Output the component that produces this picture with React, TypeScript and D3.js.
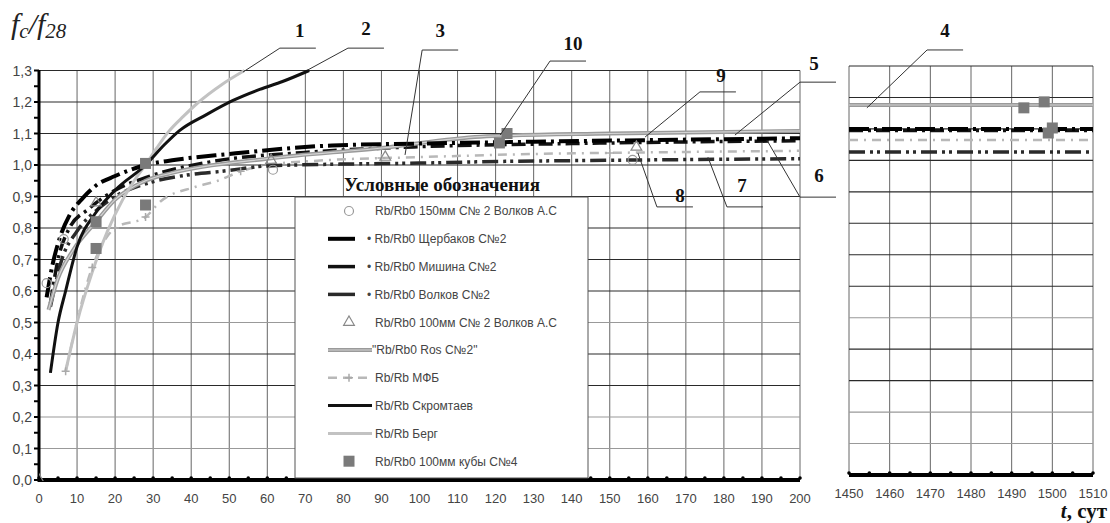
import React from "react";
import * as d3 from "d3";

// values: [t (days), fc/f28]
const scherbakovPts: [number, number][] = [
  [2, 0.58], [3.5, 0.68], [5.5, 0.77], [8, 0.84], [11.5, 0.895], [15, 0.935], [20, 0.965],
  [28, 1.0], [35, 1.015], [50, 1.035], [77, 1.062], [100, 1.068], [130, 1.074], [160, 1.079], [200, 1.085],
];
const mishinaPts: [number, number][] = [
  [3, 0.56], [5, 0.7], [8, 0.8], [13, 0.86], [20, 0.92], [28, 0.96], [45, 1.01], [70, 1.04],
  [100, 1.058], [140, 1.068], [200, 1.077],
];
const volkovPts: [number, number][] = [
  [3, 0.55], [6, 0.7], [10, 0.79], [15, 0.855], [20, 0.9], [28, 0.94], [40, 0.97], [48, 0.98],
  [60, 0.997], [80, 1.003], [100, 1.006], [115, 1.01], [150, 1.015], [200, 1.02],
];
const rosPts: [number, number][] = [
  [2.5, 0.54], [5, 0.64], [9, 0.73], [15, 0.82], [20, 0.89], [28, 0.95], [35, 0.975], [60, 1.02],
  [90, 1.054], [116, 1.09], [150, 1.1], [200, 1.108],
];
const mfbPts: [number, number][] = [
  [7, 0.345], [14, 0.675], [20, 0.8], [28, 0.835], [32, 0.885], [41, 0.93], [47, 0.95], [53, 0.98],
  [60, 1.0], [75, 1.015], [100, 1.025], [130, 1.035], [160, 1.04], [200, 1.045],
];
const mfbMarks: [number, number][] = [[7, 0.345], [14, 0.675], [20, 0.8], [28, 0.835], [53, 0.98], [90, 1.022], [150, 1.038]];
const skramtaevPts: [number, number][] = [
  [3, 0.34], [5, 0.5], [7, 0.6], [10, 0.74], [15, 0.85], [20, 0.92], [28, 1.0], [33, 1.065],
  [37, 1.11], [44, 1.16], [51, 1.205], [58, 1.24], [64, 1.265], [71, 1.3],
];
const bergPts: [number, number][] = [
  [7, 0.345], [10, 0.5], [14, 0.66], [18, 0.79], [22, 0.89], [25, 0.95], [28, 1.0], [31, 1.055],
  [34, 1.105], [38, 1.155], [42, 1.2], [48, 1.255], [54, 1.3],
];
const circlePts: [number, number][] = [[2, 0.625], [6.5, 0.765], [61.5, 0.985], [156, 1.016]];
const trianglePts: [number, number][] = [[0, 0], [15, 0.88], [61, 1.015], [91, 1.025], [157, 1.057]];
const squarePts: [number, number][] = [[15, 0.82], [15, 0.735], [28, 1.005], [28, 0.873], [121, 1.07], [123, 1.1]];

// long-term panel (1450..1510 days)
const rosLate: [number, number][] = [[1450, 1.176], [1510, 1.176]];
const scherbakovLate: [number, number][] = [[1450, 1.1], [1510, 1.1]];
const mishinaLate: [number, number][] = [[1450, 1.095], [1510, 1.095]];
const mfbLate: [number, number][] = [[1450, 1.065], [1510, 1.065]];
const volkovLate: [number, number][] = [[1450, 1.027], [1510, 1.027]];
const squareLate: [number, number][] = [[1493, 1.167], [1498, 1.186], [1500, 1.103], [1499, 1.087]];

const legendLabels = [
  "Rb/Rb0 150мм С№ 2 Волков А.С",
  "• Rb/Rb0 Щербаков С№2",
  "• Rb/Rb0 Мишина С№2",
  "• Rb/Rb0 Волков С№2",
  "Rb/Rb0 100мм С№ 2 Волков А.С",
  "\"Rb/Rb0 Ros С№2\"",
  "Rb/Rb МФБ",
  "Rb/Rb Скромтаев",
  "Rb/Rb Берг",
  "Rb/Rb0 100мм кубы С№4",
];
const legendKinds = ["circle", "scherbakov", "mishina", "volkov", "triangle", "ros", "mfb", "skramtaev", "berg", "square"];

// numbered callouts: tip on curve, elbow of leader (data units)
const callouts = [
  { label: "1", panel: "L", tip: [53.6, 1.295], elbow: [63.3, 1.371], dx: 2, dy: -11 },
  { label: "2", panel: "L", tip: [70.7, 1.302], elbow: [81.2, 1.371], dx: 0, dy: -13 },
  { label: "3", panel: "L", tip: [96.2, 1.032], elbow: [100.7, 1.365], dx: 0, dy: -13 },
  { label: "10", panel: "L", tip: [121.2, 1.095], elbow: [134.3, 1.33], dx: 5, dy: -11 },
  { label: "9", panel: "L", tip: [159.3, 1.089], elbow: [173.7, 1.232], dx: 3, dy: -10 },
  { label: "5", panel: "L", tip: [182.9, 1.095], elbow: [200, 1.263], dx: -4, dy: -12 },
  { label: "6", panel: "L", tip: [191.3, 1.079], elbow: [200, 0.898], dx: 1, dy: -15 },
  { label: "7", panel: "L", tip: [175.8, 1.025], elbow: [180.8, 0.867], dx: -3, dy: -15 },
  { label: "8", panel: "L", tip: [157.4, 1.038], elbow: [162.4, 0.867], dx: 5, dy: -5 },
  { label: "4", panel: "R", tip: [1454.4, 1.167], elbow: [1469.2, 1.351], dx: 0, dy: -13 },
];

const styles: Record<string, { stroke: string; width: number; dash?: string; inner?: string }> = {
  scherbakov: { stroke: "#000", width: 4, dash: "20,5,3,5" },
  mishina: { stroke: "#111", width: 3.5, dash: "14,5,3,5" },
  volkov: { stroke: "#2a2a2a", width: 3.5, dash: "16,5,3,4,3,5" },
  ros: { stroke: "#9a9a9a", width: 4, inner: "#d4d4d4" },
  mfb: { stroke: "#b8b8b8", width: 2.5, dash: "9,6,2,6" },
  skramtaev: { stroke: "#111", width: 3 },
  berg: { stroke: "#c2c2c2", width: 3 },
};

const lightRows = [0.5, 0.2, 0.1];

const xL = d3.scaleLinear().domain([0, 200]).range([39, 800]);
const yL = d3.scaleLinear().domain([0, 1.3]).range([480, 70.5]);
const xR = d3.scaleLinear().domain([1450, 1510]).range([849, 1093]);
const yR = d3.scaleLinear().domain([0, 1.3]).range([475, 66]);

const fmt = (v: number) => d3.format(".1f")(v).replace(".", ",");
const SANS = "'Liberation Sans', Arial, sans-serif";
const SERIF = "'Liberation Serif', 'Times New Roman', serif";

function Series({ pts, kind, x, y }: any) {
  const st = styles[kind];
  const line = d3.line<[number, number]>().x((d) => x(d[0])).y((d) => y(d[1])).curve(d3.curveMonotoneX);
  const d = line(pts) || "";
  return (
    <g>
      <path d={d} fill="none" stroke={st.stroke} strokeWidth={st.width} strokeDasharray={st.dash} />
      {st.inner && <path d={d} fill="none" stroke={st.inner} strokeWidth={1.2} />}
    </g>
  );
}

function Marker({ kind, cx, cy }: any) {
  if (kind === "circle") return <circle cx={cx} cy={cy} r={4.5} fill="none" stroke="#999" strokeWidth={1.2} />;
  if (kind === "triangle")
    return <path d={d3.symbol(d3.symbolTriangle, 50)() || ""} transform={`translate(${cx},${cy})`} fill="none" stroke="#888" strokeWidth={1.2} />;
  if (kind === "square") return <rect x={cx - 5.5} y={cy - 5.5} width={11} height={11} fill="#7a7a7a" />;
  return (
    <path d={`M${cx - 4},${cy}H${cx + 4}M${cx},${cy - 4}V${cy + 4}`} stroke="#aaa" strokeWidth={1.5} />
  );
}

function Grid({ x, y, xs }: any) {
  const [x0, x1] = x.range();
  const [y0, y1] = y.range();
  const rows = d3.range(0, 14).map((i) => i / 10);
  const minor = d3.range(x.domain()[0], x.domain()[1] + 0.1, 5);
  return (
    <g>
      {xs.map((t: number) => (
        <line key={"v" + t} x1={x(t)} x2={x(t)} y1={y0} y2={y1} stroke="#666" strokeWidth={1} />
      ))}
      {rows.map((v) => (
        <line key={"h" + v} x1={x0} x2={x1} y1={y(v)} y2={y(v)}
          stroke={lightRows.includes(v) ? "#999" : "#2a2a2a"} strokeWidth={v === 1.3 ? 1 : 1.1} />
      ))}
      <line x1={x0} x2={x1} y1={y0} y2={y0} stroke="#000" strokeWidth={4} />
      {minor.map((t: number) => (
        <circle key={"m" + t} cx={x(t)} cy={y0 - 2} r={1.8} fill="#000" />
      ))}
      {xs.map((t: number) => (
        <text key={"l" + t} x={x(t)} y={y0 + 23} textAnchor="middle" fontSize={13} fontFamily={SANS} fill="#444">
          {t}
        </text>
      ))}
    </g>
  );
}

export default function App() {
  const clipL = "clipLeft";
  const legendX = 295;
  const legendRow = (i: number) => 211 + i * 27.8;
  return (
    <svg width={1110} height={523} style={{ position: "absolute", left: 0, top: 0, background: "#fff" }}>
      <defs>
        <clipPath id={clipL}>
          <rect x={39} y={69} width={761} height={412} />
        </clipPath>
      </defs>

      <Grid x={xL} y={yL} xs={d3.range(0, 201, 10)} />
      <Grid x={xR} y={yR} xs={d3.range(1450, 1511, 10)} />

      {/* left axis */}
      <line x1={39} x2={39} y1={70} y2={482} stroke="#000" strokeWidth={3} />
      {d3.range(0, 1.31, 0.05).map((v) => (
        <line key={v} x1={34} x2={39} y1={yL(v)} y2={yL(v)} stroke="#000" strokeWidth={2} />
      ))}
      {d3.range(0, 14).map((i) => (
        <text key={i} x={32} y={yL(i / 10)} dy="0.36em" textAnchor="end" fontSize={14} fontFamily={SANS} fill="#444">
          {fmt(i / 10)}
        </text>
      ))}

      {/* curves, left panel */}
      <g clipPath={`url(#${clipL})`}>
        <Series pts={mfbPts} kind="mfb" x={xL} y={yL} />
        <Series pts={volkovPts} kind="volkov" x={xL} y={yL} />
        <Series pts={mishinaPts} kind="mishina" x={xL} y={yL} />
        <Series pts={rosPts} kind="ros" x={xL} y={yL} />
        <Series pts={scherbakovPts} kind="scherbakov" x={xL} y={yL} />
        <Series pts={bergPts} kind="berg" x={xL} y={yL} />
        <Series pts={skramtaevPts} kind="skramtaev" x={xL} y={yL} />
        {mfbMarks.map((p, i) => <Marker key={"p" + i} kind="plus" cx={xL(p[0])} cy={yL(p[1])} />)}
        {circlePts.map((p, i) => <Marker key={"c" + i} kind="circle" cx={xL(p[0])} cy={yL(p[1])} />)}
        {trianglePts.map((p, i) => <Marker key={"t" + i} kind="triangle" cx={xL(p[0])} cy={yL(p[1])} />)}
        {squarePts.map((p, i) => <Marker key={"s" + i} kind="square" cx={xL(p[0])} cy={yL(p[1])} />)}
      </g>

      {/* curves, right panel */}
      <Series pts={volkovLate} kind="volkov" x={xR} y={yR} />
      <Series pts={mfbLate} kind="mfb" x={xR} y={yR} />
      <Series pts={mishinaLate} kind="mishina" x={xR} y={yR} />
      <Series pts={scherbakovLate} kind="scherbakov" x={xR} y={yR} />
      <Series pts={rosLate} kind="ros" x={xR} y={yR} />
      {squareLate.map((p, i) => <Marker key={"sl" + i} kind="square" cx={xR(p[0])} cy={yR(p[1])} />)}

      {/* legend */}
      <text x={442} y={191} textAnchor="middle" fontSize={19} fontWeight="bold" fontFamily={SERIF} fill="#111">
        Условные обозначения
      </text>
      <rect x={legendX} y={197} width={293} height={281} fill="#fff" stroke="#555" strokeWidth={1} />
      {legendLabels.map((lab, i) => {
        const cy = legendRow(i);
        const kind = legendKinds[i];
        const st = styles[kind];
        const bullet = lab.startsWith("•");
        const tx = bullet ? 367 : lab.startsWith("\"") ? 372 : 375;
        return (
          <g key={i}>
            {st && (
              <g>
                <line x1={328} x2={bullet ? 355 : 372} y1={cy} y2={cy} stroke={st.stroke} strokeWidth={st.width}
                  strokeDasharray={kind === "mfb" ? "9,6" : undefined} />
                {st.inner && <line x1={328} x2={372} y1={cy} y2={cy} stroke={st.inner} strokeWidth={1.2} />}
                {kind === "mfb" && <Marker kind="plus" cx={349} cy={cy} />}
              </g>
            )}
            {!st && <Marker kind={kind} cx={349} cy={cy} />}
            <text x={tx} y={cy} dy="0.36em" fontSize={12} fontFamily={SANS} fill="#444">
              {lab}
            </text>
          </g>
        );
      })}

      {/* numbered callouts */}
      {callouts.map((c) => {
        const x = c.panel === "L" ? xL : xR;
        const y = c.panel === "L" ? yL : yR;
        const ex = x(c.elbow[0]);
        const ey = y(c.elbow[1]);
        return (
          <g key={c.label}>
            <path d={`M${x(c.tip[0])},${y(c.tip[1])}L${ex},${ey}H${ex + 36}`} fill="none" stroke="#333" strokeWidth={1} />
            <text x={ex + 18 + c.dx} y={ey + c.dy} textAnchor="middle" fontSize={19} fontWeight="bold" fontFamily={SERIF} fill="#111">
              {c.label}
            </text>
          </g>
        );
      })}

      {/* axis titles */}
      <text x={11} y={34} fontFamily={SERIF} fontStyle="italic" fontSize={30} fill="#222">
        f<tspan fontSize={21} dy={4}>c</tspan>
        <tspan dy={-4}>/f</tspan>
        <tspan fontSize={21} dy={4}>28</tspan>
      </text>
      <text x={1107} y={518} textAnchor="end" fontFamily={SERIF} fontWeight="bold" fontSize={21} fill="#111">
        <tspan fontStyle="italic">t</tspan>, сут
      </text>
    </svg>
  );
}
